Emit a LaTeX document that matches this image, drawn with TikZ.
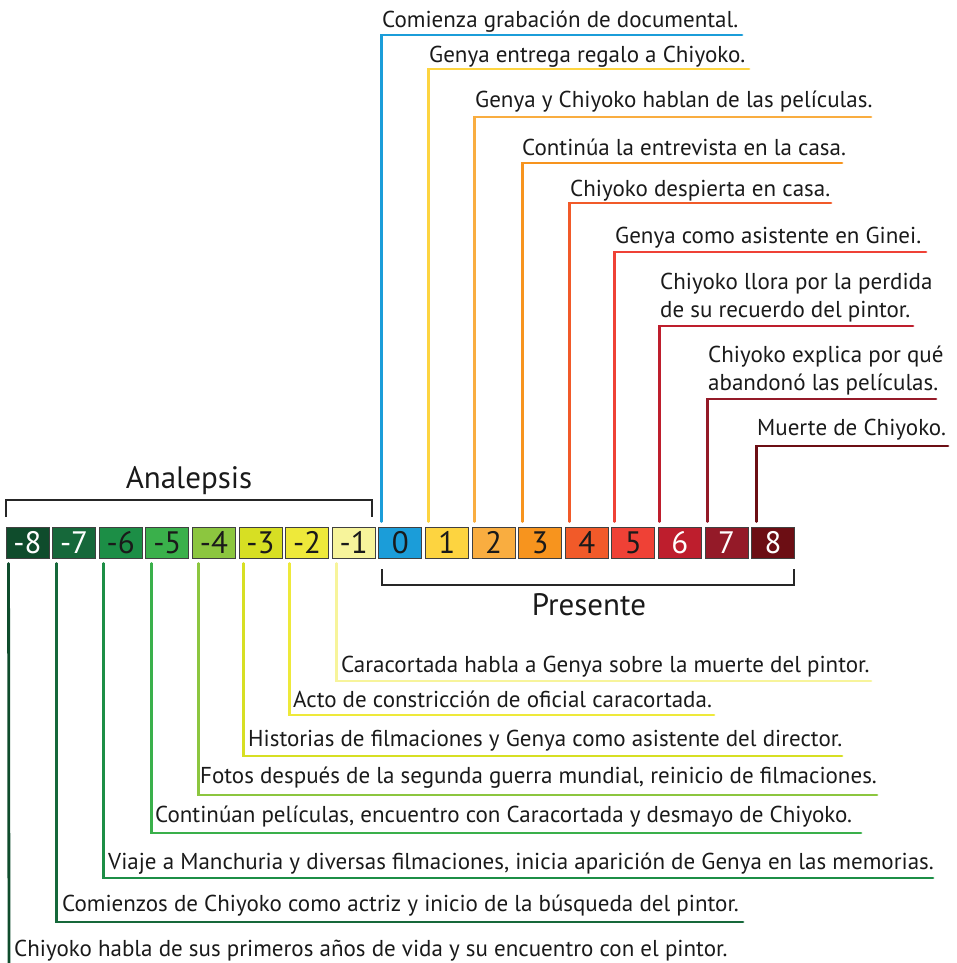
\documentclass[tikz,border=0pt]{standalone}
\usepackage{fontspec}
\setmainfont{PT Sans}
\definecolor{cm8}{HTML}{0F4C2C}
\definecolor{cm7}{HTML}{16683A}
\definecolor{cm6}{HTML}{1C8E46}
\definecolor{cm5}{HTML}{3AB04B}
\definecolor{cm4}{HTML}{8CC63F}
\definecolor{cm3}{HTML}{D7DF23}
\definecolor{cm2}{HTML}{EEE93A}
\definecolor{cm1}{HTML}{F7F49B}
\definecolor{c0}{HTML}{1B9DD9}
\definecolor{c1}{HTML}{FDD440}
\definecolor{c2}{HTML}{F9AD40}
\definecolor{c3}{HTML}{F7941E}
\definecolor{c4}{HTML}{F15A29}
\definecolor{c5}{HTML}{EF4136}
\definecolor{c6}{HTML}{BE1E2D}
\definecolor{c7}{HTML}{941A28}
\definecolor{c8}{HTML}{6C0E14}
\definecolor{txt}{HTML}{1A1A1A}
\tikzset{
  numbox/.style={draw=black!75, line width=0.9pt, minimum width=43pt, minimum height=31pt, inner sep=0pt, font=\fontsize{31}{32}\selectfont, text=txt},
  ln/.style={line width=2.8pt, line cap=round, line join=miter},
  lbl/.style={anchor=south west, inner sep=0pt, text depth=0pt, font=\fontsize{23}{28.5}\selectfont, align=left, text=txt},
  brk/.style={line width=1.3pt, draw=black!85},
  brklbl/.style={anchor=base, inner sep=0pt, font=\fontsize{31}{32}\selectfont, text=txt}
}
\begin{document}
\begin{tikzpicture}[x=1pt,y=-1pt]
\useasboundingbox (0,0) rectangle (956,963);
% boxes
\node[numbox, fill=cm8, text=white] (bm8) at (27.5,542.5) {-8};
\node[numbox, fill=cm7, text=white] (bm7) at (74.1,542.5) {-7};
\node[numbox, fill=cm6] (bm6) at (120.7,542.5) {-6};
\node[numbox, fill=cm5] (bm5) at (167.3,542.5) {-5};
\node[numbox, fill=cm4] (bm4) at (213.9,542.5) {-4};
\node[numbox, fill=cm3] (bm3) at (260.5,542.5) {-3};
\node[numbox, fill=cm2] (bm2) at (307.1,542.5) {-2};
\node[numbox, fill=cm1] (bm1) at (353.7,542.5) {-1};
\node[numbox, fill=c0] (b0) at (400.3,542.5) {0};
\node[numbox, fill=c1] (b1) at (446.9,542.5) {1};
\node[numbox, fill=c2] (b2) at (493.5,542.5) {2};
\node[numbox, fill=c3] (b3) at (540.1,542.5) {3};
\node[numbox, fill=c4] (b4) at (586.7,542.5) {4};
\node[numbox, fill=c5] (b5) at (633.3,542.5) {5};
\node[numbox, fill=c6, text=white] (b6) at (679.9,542.5) {6};
\node[numbox, fill=c7, text=white] (b7) at (726.5,542.5) {7};
\node[numbox, fill=c8, text=white] (b8) at (773.1,542.5) {8};

% brackets
\coordinate (an1) at (6,517);
\coordinate (an2) at (372,517);
\draw[brk] (an1) -- ++(0,-17) -| (an2);
\node[brklbl] (analepsis) at (189,488) {Analepsis};
\coordinate (pr1) at (382,569);
\coordinate (pr2) at (794,569);
\draw[brk] (pr1) -- ++(0,16) -| (pr2);
\node[brklbl] (presente) at (589,615) {Presente};

% upper ends
\coordinate (e0) at (742,35);
\coordinate (e1) at (749,69);
\coordinate (e2) at (871,117);
\coordinate (e3) at (842,163);
\coordinate (e4) at (831,203);
\coordinate (e5) at (926,252);
\coordinate (e6) at (913,326);
\coordinate (e7) at (936,399);
\coordinate (e8) at (948,446);
\draw[ln, c0] ([xshift=3.2pt,yshift=5pt]b0.north west) |- (e0);
\draw[ln, c1] ([xshift=3.6pt,yshift=5pt]b1.north west) |- (e1);
\draw[ln, c2] ([xshift=3pt,yshift=5pt]b2.north west) |- (e2);
\draw[ln, c3] ([xshift=4pt,yshift=5pt]b3.north west) |- (e3);
\draw[ln, c4] ([xshift=4.8pt,yshift=5pt]b4.north west) |- (e4);
\draw[ln, c5] ([xshift=3.2pt,yshift=5pt]b5.north west) |- (e5);
\draw[ln, c6] ([xshift=1.6pt,yshift=5pt]b6.north west) |- (e6);
\draw[ln, c7] ([xshift=3pt,yshift=5pt]b7.north west) |- (e7);
\draw[ln, c8] ([xshift=5.4pt,yshift=5pt]b8.north west) |- (e8);

\node[lbl] (t0) at (382,28) {Comienza grabación de documental.};
\node[lbl] (t1) at (429,63) {Genya entrega regalo a Chiyoko.};
\node[lbl] (t2) at (475,108) {Genya y Chiyoko hablan de las películas.};
\node[lbl] (t3) at (522,156) {Continúa la entrevista en la casa.};
\node[lbl] (t4) at (570,197) {Chiyoko despierta en casa.};
\node[lbl] (t5) at (615,244) {Genya como asistente en Ginei.};
\node[lbl] (t6) at (660,318) {Chiyoko llora por la perdida\\de su recuerdo del pintor.};
\node[lbl] (t7) at (708,391) {Chiyoko explica por qué\\abandonó las películas.};
\node[lbl] (t8) at (757,436) {Muerte de Chiyoko.};

% lower ends
\coordinate (em1) at (871,681);
\coordinate (em2) at (714,715);
\coordinate (em3) at (842,756);
\coordinate (em4) at (877,795);
\coordinate (em5) at (861,833);
\coordinate (em6) at (933,878);
\coordinate (em7) at (743,922);
\coordinate (em8) at (9,968);
\draw[ln, cm1] ([xshift=4.8pt,yshift=-5pt]bm1.south west) |- (em1);
\draw[ln, cm2] ([xshift=4.4pt,yshift=-5pt]bm2.south west) |- (em2);
\draw[ln, cm3] ([xshift=5pt,yshift=-5pt]bm3.south west) |- (em3);
\draw[ln, cm4] ([xshift=6.6pt,yshift=-5pt]bm4.south west) |- (em4);
\draw[ln, cm5] ([xshift=6.2pt,yshift=-5pt]bm5.south west) |- (em5);
\draw[ln, cm6] ([xshift=4.8pt,yshift=-5pt]bm6.south west) |- (em6);
\draw[ln, cm7] ([xshift=4.4pt,yshift=-5pt]bm7.south west) |- (em7);
\draw[ln, cm8] ([xshift=3pt,yshift=-5pt]bm8.south west) -- (em8);

\node[lbl] (tm1) at (341,673) {Caracortada habla a Genya sobre la muerte del pintor.};
\node[lbl] (tm2) at (293,708) {Acto de constricción de oficial caracortada.};
\node[lbl] (tm3) at (248,747) {Historias de filmaciones y Genya como asistente del director.};
\node[lbl] (tm4) at (200,784) {Fotos después de la segunda guerra mundial, reinicio de filmaciones.};
\node[lbl] (tm5) at (155,823) {Continúan películas, encuentro con Caracortada y desmayo de Chiyoko.};
\node[lbl] (tm6) at (108,870) {Viaje a Manchuria y diversas filmaciones, inicia aparición de Genya en las memorias.};
\node[lbl] (tm7) at (62,912) {Comienzos de Chiyoko como actriz y inicio de la búsqueda del pintor.};
\node[lbl] (tm8) at (14,957) {Chiyoko habla de sus primeros años de vida y su encuentro con el pintor.};
\end{tikzpicture}
\end{document}
